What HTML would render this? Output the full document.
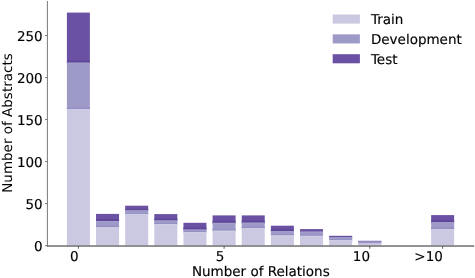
<!DOCTYPE html>
<html><head><meta charset="utf-8"><title>Number of Relations</title>
<style>
html,body{margin:0;padding:0;background:#fff;}
body{width:475px;height:278px;overflow:hidden;position:relative;}
svg text{font-family:"DejaVu Sans","Liberation Sans",sans-serif;font-size:13.5px;text-rendering:geometricPrecision;fill:#000;stroke:#000;stroke-width:0.15px;}
</style></head><body>
<svg width="475" height="278" viewBox="0 0 475 278" style="position:absolute;left:0;top:0">
<g>
<rect width="475" height="278" fill="#fff"/>
<rect x="66.90" y="12.60" width="23.0" height="51.00" fill="#6a51a3"/>
<rect x="66.90" y="62.60" width="23.0" height="47.50" fill="#9e9ac8"/>
<rect x="66.90" y="109.10" width="23.0" height="136.50" fill="#cbc9e2"/>
<rect x="66.90" y="60.60" width="23.0" height="2.00" fill="#5f4699"/>
<rect x="66.90" y="107.50" width="23.0" height="1.60" fill="#9490c3"/>
<rect x="66.90" y="62.60" width="23.0" height="1.00" fill="#a5a2cd"/>
<rect x="66.90" y="109.10" width="23.0" height="1.20" fill="#cfcde4"/>
<rect x="96.04" y="213.90" width="23.0" height="8.10" fill="#6a51a3"/>
<rect x="96.04" y="221.00" width="23.0" height="7.20" fill="#9e9ac8"/>
<rect x="96.04" y="227.20" width="23.0" height="18.40" fill="#cbc9e2"/>
<rect x="96.04" y="219.00" width="23.0" height="2.00" fill="#5f4699"/>
<rect x="96.04" y="225.60" width="23.0" height="1.60" fill="#9490c3"/>
<rect x="96.04" y="221.00" width="23.0" height="1.00" fill="#a5a2cd"/>
<rect x="96.04" y="227.20" width="23.0" height="1.20" fill="#cfcde4"/>
<rect x="125.18" y="205.70" width="23.0" height="5.60" fill="#6a51a3"/>
<rect x="125.18" y="210.30" width="23.0" height="4.60" fill="#9e9ac8"/>
<rect x="125.18" y="213.90" width="23.0" height="31.70" fill="#cbc9e2"/>
<rect x="125.18" y="208.92" width="23.0" height="1.38" fill="#5f4699"/>
<rect x="125.18" y="212.82" width="23.0" height="1.08" fill="#9490c3"/>
<rect x="125.18" y="210.30" width="23.0" height="0.72" fill="#a5a2cd"/>
<rect x="125.18" y="213.90" width="23.0" height="1.20" fill="#cfcde4"/>
<rect x="154.32" y="214.10" width="23.0" height="7.30" fill="#6a51a3"/>
<rect x="154.32" y="220.40" width="23.0" height="4.60" fill="#9e9ac8"/>
<rect x="154.32" y="224.00" width="23.0" height="21.60" fill="#cbc9e2"/>
<rect x="154.32" y="218.51" width="23.0" height="1.89" fill="#5f4699"/>
<rect x="154.32" y="222.92" width="23.0" height="1.08" fill="#9490c3"/>
<rect x="154.32" y="220.40" width="23.0" height="0.72" fill="#a5a2cd"/>
<rect x="154.32" y="224.00" width="23.0" height="1.20" fill="#cfcde4"/>
<rect x="183.46" y="222.80" width="23.0" height="7.65" fill="#6a51a3"/>
<rect x="183.46" y="229.45" width="23.0" height="3.55" fill="#9e9ac8"/>
<rect x="183.46" y="232.00" width="23.0" height="13.60" fill="#cbc9e2"/>
<rect x="183.46" y="227.46" width="23.0" height="2.00" fill="#5f4699"/>
<rect x="183.46" y="231.24" width="23.0" height="0.76" fill="#9490c3"/>
<rect x="183.46" y="229.45" width="23.0" height="0.51" fill="#a5a2cd"/>
<rect x="183.46" y="232.00" width="23.0" height="1.20" fill="#cfcde4"/>
<rect x="212.60" y="215.40" width="23.0" height="8.40" fill="#6a51a3"/>
<rect x="212.60" y="222.80" width="23.0" height="8.80" fill="#9e9ac8"/>
<rect x="212.60" y="230.60" width="23.0" height="15.00" fill="#cbc9e2"/>
<rect x="212.60" y="220.80" width="23.0" height="2.00" fill="#5f4699"/>
<rect x="212.60" y="229.00" width="23.0" height="1.60" fill="#9490c3"/>
<rect x="212.60" y="222.80" width="23.0" height="1.00" fill="#a5a2cd"/>
<rect x="212.60" y="230.60" width="23.0" height="1.20" fill="#cfcde4"/>
<rect x="241.74" y="215.40" width="23.0" height="8.20" fill="#6a51a3"/>
<rect x="241.74" y="222.60" width="23.0" height="6.50" fill="#9e9ac8"/>
<rect x="241.74" y="228.10" width="23.0" height="17.50" fill="#cbc9e2"/>
<rect x="241.74" y="220.60" width="23.0" height="2.00" fill="#5f4699"/>
<rect x="241.74" y="226.50" width="23.0" height="1.60" fill="#9490c3"/>
<rect x="241.74" y="222.60" width="23.0" height="1.00" fill="#a5a2cd"/>
<rect x="241.74" y="228.10" width="23.0" height="1.20" fill="#cfcde4"/>
<rect x="270.88" y="225.70" width="23.0" height="6.40" fill="#6a51a3"/>
<rect x="270.88" y="231.10" width="23.0" height="5.20" fill="#9e9ac8"/>
<rect x="270.88" y="235.30" width="23.0" height="10.30" fill="#cbc9e2"/>
<rect x="270.88" y="229.48" width="23.0" height="1.62" fill="#5f4699"/>
<rect x="270.88" y="234.04" width="23.0" height="1.26" fill="#9490c3"/>
<rect x="270.88" y="231.10" width="23.0" height="0.84" fill="#a5a2cd"/>
<rect x="270.88" y="235.30" width="23.0" height="1.20" fill="#cfcde4"/>
<rect x="300.02" y="229.10" width="23.0" height="3.40" fill="#6a51a3"/>
<rect x="300.02" y="231.50" width="23.0" height="5.30" fill="#9e9ac8"/>
<rect x="300.02" y="235.80" width="23.0" height="9.80" fill="#cbc9e2"/>
<rect x="300.02" y="230.78" width="23.0" height="0.72" fill="#5f4699"/>
<rect x="300.02" y="234.51" width="23.0" height="1.29" fill="#9490c3"/>
<rect x="300.02" y="231.50" width="23.0" height="0.86" fill="#a5a2cd"/>
<rect x="300.02" y="235.80" width="23.0" height="1.20" fill="#cfcde4"/>
<rect x="329.16" y="235.80" width="23.0" height="2.30" fill="#6a51a3"/>
<rect x="329.16" y="237.10" width="23.0" height="3.90" fill="#9e9ac8"/>
<rect x="329.16" y="240.00" width="23.0" height="5.60" fill="#cbc9e2"/>
<rect x="329.16" y="236.71" width="23.0" height="0.39" fill="#5f4699"/>
<rect x="329.16" y="239.13" width="23.0" height="0.87" fill="#9490c3"/>
<rect x="329.16" y="237.10" width="23.0" height="0.58" fill="#a5a2cd"/>
<rect x="329.16" y="240.00" width="23.0" height="1.12" fill="#cfcde4"/>
<rect x="358.30" y="240.80" width="23.0" height="1.50" fill="#6a51a3"/>
<rect x="358.30" y="241.30" width="23.0" height="2.90" fill="#9e9ac8"/>
<rect x="358.30" y="243.20" width="23.0" height="2.40" fill="#cbc9e2"/>
<rect x="358.30" y="241.15" width="23.0" height="0.15" fill="#5f4699"/>
<rect x="358.30" y="242.63" width="23.0" height="0.57" fill="#9490c3"/>
<rect x="358.30" y="241.30" width="23.0" height="0.38" fill="#a5a2cd"/>
<rect x="358.30" y="243.20" width="23.0" height="0.48" fill="#cfcde4"/>
<rect x="431.15" y="215.10" width="23.0" height="8.10" fill="#6a51a3"/>
<rect x="431.15" y="222.20" width="23.0" height="7.80" fill="#9e9ac8"/>
<rect x="431.15" y="229.00" width="23.0" height="16.60" fill="#cbc9e2"/>
<rect x="431.15" y="220.20" width="23.0" height="2.00" fill="#5f4699"/>
<rect x="431.15" y="227.40" width="23.0" height="1.60" fill="#9490c3"/>
<rect x="431.15" y="222.20" width="23.0" height="1.00" fill="#a5a2cd"/>
<rect x="431.15" y="229.00" width="23.0" height="1.20" fill="#cfcde4"/>
<rect x="46.9" y="1" width="1" height="245.6" fill="#7a7a7a"/>
<rect x="46.9" y="245.3" width="427.3" height="1.45" fill="#6c6c6c"/>
<rect x="45" y="245.10" width="2.5" height="1" fill="#7a7a7a"/>
<text x="42.7" y="250.70" text-anchor="end">0</text>
<rect x="45" y="203.08" width="2.5" height="1" fill="#7a7a7a"/>
<text x="42.7" y="208.68" text-anchor="end">50</text>
<rect x="45" y="161.06" width="2.5" height="1" fill="#7a7a7a"/>
<text x="42.7" y="166.66" text-anchor="end">100</text>
<rect x="45" y="119.04" width="2.5" height="1" fill="#7a7a7a"/>
<text x="42.7" y="124.64" text-anchor="end">150</text>
<rect x="45" y="77.02" width="2.5" height="1" fill="#7a7a7a"/>
<text x="42.7" y="82.62" text-anchor="end">200</text>
<rect x="45" y="35.00" width="2.5" height="1" fill="#7a7a7a"/>
<text x="42.7" y="40.60" text-anchor="end">250</text>
<rect x="77.90" y="246" width="1" height="2.7" fill="#5a5a5a"/>
<text x="78.60" y="261.3" text-anchor="end">0</text>
<rect x="223.60" y="246" width="1" height="2.7" fill="#5a5a5a"/>
<text x="224.30" y="261.3" text-anchor="end">5</text>
<rect x="369.30" y="246" width="1" height="2.7" fill="#5a5a5a"/>
<text x="370.00" y="261.3" text-anchor="end">10</text>
<rect x="442.15" y="246" width="1" height="2.7" fill="#5a5a5a"/>
<text x="442.85" y="261.3" text-anchor="end">&gt;10</text>
<text x="260.8" y="276.4" text-anchor="middle">Number of Relations</text>
<text transform="translate(11.5 123) rotate(-90)" text-anchor="middle" style="stroke:none">Number of Abstracts</text>
<rect x="332.7" y="14.50" width="27.2" height="9.1" fill="#cbc9e2"/>
<text x="370.9" y="23.90">Train</text>
<rect x="332.7" y="34.35" width="27.2" height="9.1" fill="#9e9ac8"/>
<text x="370.9" y="43.75">Development</text>
<rect x="332.7" y="54.20" width="27.2" height="9.1" fill="#6a51a3"/>
<text x="370.9" y="63.60">Test</text>
</g></svg>
</body></html>
